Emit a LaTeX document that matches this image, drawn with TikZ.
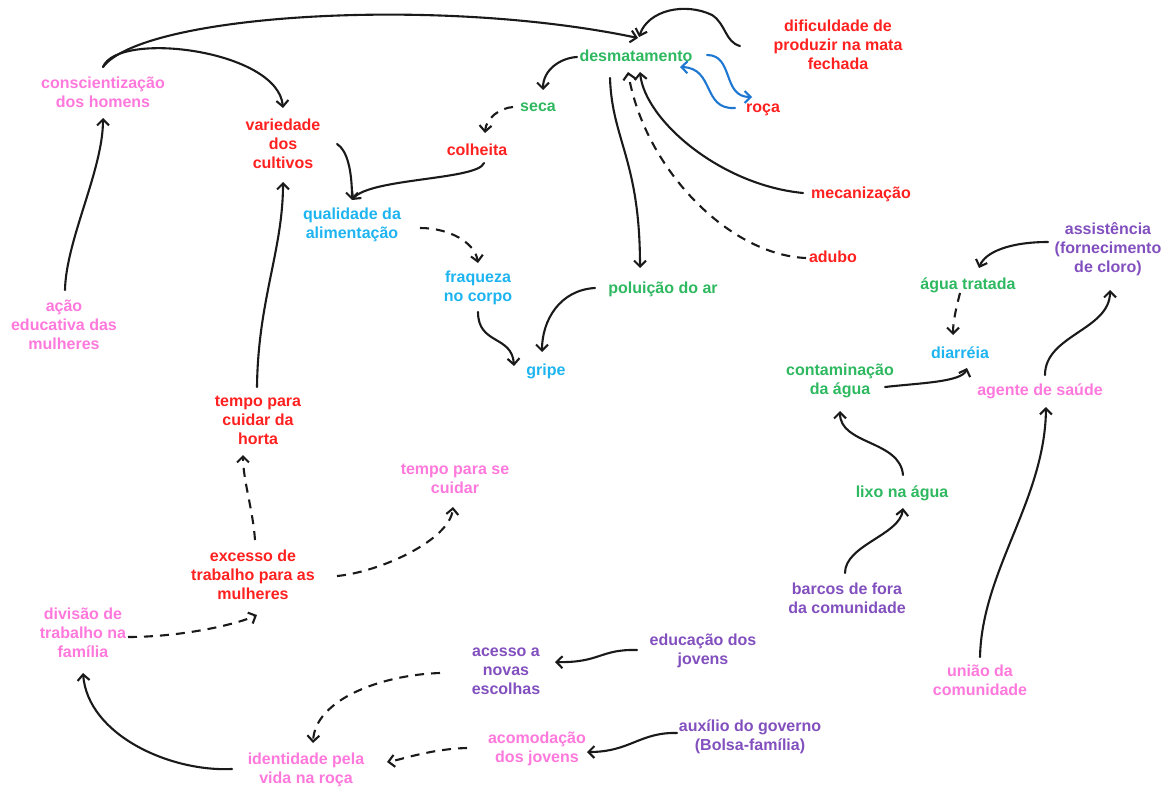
\documentclass[tikz,border=0pt]{standalone}
\usepackage{fontspec}
\setmainfont{Liberation Sans}
\usetikzlibrary{arrows.meta,calc}
\definecolor{cred}{HTML}{FF2020}
\definecolor{cpink}{HTML}{FF78DC}
\definecolor{cgreen}{HTML}{2EB860}
\definecolor{cblue}{HTML}{1EB4F0}
\definecolor{cpurple}{HTML}{8250BE}
\definecolor{cwave}{HTML}{1E78D2}
\definecolor{cink}{HTML}{1A1A1A}
\tikzset{
  lbl/.style={align=center,inner sep=2bp,font=\fontsize{16bp}{19bp}\selectfont\bfseries},
  red/.style={lbl,text=cred},
  pink/.style={lbl,text=cpink},
  green/.style={lbl,text=cgreen},
  blue/.style={lbl,text=cblue},
  purple/.style={lbl,text=cpurple},
  link/.style={draw=cink,line width=2.1bp,line cap=round,
    -{Straight Barb[length=6bp,width=12bp]}},
  dlink/.style={link,line cap=butt,dash pattern=on 9bp off 7bp},
  wave/.style={link,draw=cwave}
}
\begin{document}
\begin{tikzpicture}[x=1bp,y=-1bp]
\useasboundingbox (0,0) rectangle (1172,789);
% concepts
\node[pink]   (consc)  at (103,92)  {conscientização\\dos homens};
\node[red]    (vari)   at (283,144) {variedade\\dos\\cultivos};
\node[green]  (desm)   at (636,56)  {desmatamento};
\node[red]    (dific)  at (838,45)  {dificuldade de\\produzir na mata\\fechada};
\node[red]    (roca)   at (763,110) {roça};
\node[green]  (seca)   at (538,107) {seca};
\node[red]    (colh)   at (477,150) {colheita};
\node[red]    (mecan)  at (861,194) {mecanização};
\node[blue]   (qual)   at (352,225) {qualidade da\\alimentação};
\node[red]    (adubo)  at (833,257) {adubo};
\node[blue]   (fraq)   at (478,288) {fraqueza\\no corpo};
\node[green]  (polu)   at (663,289) {poluição do ar};
\node[blue]   (gripe)  at (546,371) {gripe};
\node[purple] (assist) at (1108,249) {assistência\\(fornecimento\\de cloro)};
\node[green]  (agua)   at (968,285) {água tratada};
\node[blue]   (diar)   at (960,353) {diarréia};
\node[green]  (contam) at (840,381) {contaminação\\da água};
\node[pink]   (agente) at (1040,391) {agente de saúde};
\node[pink]   (acao)   at (64,325)  {ação\\educativa das\\mulheres};
\node[red]    (tcuid)  at (258,420) {tempo para\\cuidar da\\horta};
\node[pink]   (tse)    at (455,479) {tempo para se\\cuidar};
\node[green]  (lixo)   at (902,493) {lixo na água};
\node[red]    (exces)  at (253,575) {excesso de\\trabalho para as\\mulheres};
\node[purple] (barcos) at (847,598) {barcos de fora\\da comunidade};
\node[pink]   (divis)  at (83,633)  {divisão de\\trabalho na\\família};
\node[purple] (educ)   at (703,651) {educação dos\\jovens};
\node[purple] (acesso) at (506,671) {acesso a\\novas\\escolhas};
\node[pink]   (uniao)  at (980,680) {união da\\comunidade};
\node[purple] (auxil)  at (750,737) {auxílio do governo\\(Bolsa-família)};
\node[pink]   (acomod) at (537,749) {acomodação\\dos jovens};
\node[pink]   (ident)  at (306,770) {identidade pela\\vida na roça};

% connectors
\draw[link] ($(consc)+(0,-25)$) .. controls (118,30) and (278,50) .. ($(vari)+(0,-36)$);
\draw[link] ($(consc)+(0,-25)$) .. controls (143,14) and (438,-4) .. ($(desm)+(2,-18)$);
\draw[link] ($(dific)+(-98,1)$) .. controls (725,42) and (726,24) .. (712,15)
            .. controls (685,2) and (648,10) .. ($(desm)+(3,-19)$);
\draw[link] ($(desm)+(-59,1)$) .. controls (560,58) and (543,70) .. ($(seca)+(5,-17)$);
\draw[dlink] ($(seca)+(-25,0)$) .. controls (500,108) and (486,118) .. ($(colh)+(8,-17)$);
\draw[link] ($(colh)+(7,13)$) .. controls (478,180) and (370,178) .. ($(qual)+(0,-25)$);
\draw[link] ($(vari)+(54,0)$) .. controls (347,150) and (352,170) .. ($(qual)+(0,-25)$);
\draw[dlink] ($(qual)+(68,3)$) .. controls (450,228) and (475,243) .. ($(fraq)+(0,-25)$);
\draw[link] ($(fraq)+(0,24)$) .. controls (478,345) and (512,335) .. ($(gripe)+(-32,-5)$);
\draw[link] ($(polu)+(-68,-1)$) .. controls (560,290) and (542,320) .. ($(gripe)+(-4,-19)$);
\draw[link] ($(desm)+(-26,22)$) .. controls (612,140) and (640,160) .. ($(polu)+(-23,-21)$);
\draw[dlink] ($(adubo)+(-27,1)$) .. controls (730,255) and (645,170) .. ($(desm)+(-8,16)$);
\draw[link] ($(mecan)+(-58,-1)$) .. controls (720,185) and (645,120) .. ($(desm)+(4,16)$);
\draw[wave] ($(desm)+(71,-1)$) .. controls (734,55) and (722,97) .. ($(roca)+(-11,-13)$);
\draw[wave] ($(roca)+(-28,-2)$) .. controls (702,110) and (715,68) .. ($(desm)+(44,11)$);
\draw[link] ($(acao)+(1,-35)$) .. controls (66,240) and (103,170) .. ($(consc)+(0,26)$);
\draw[link] ($(tcuid)+(-1,-33)$) .. controls (258,300) and (283,250) .. ($(vari)+(0,38)$);
\draw[dlink] ($(exces)+(2,-35)$) .. controls (253,510) and (243,480) .. ($(tcuid)+(-15,35)$);
\draw[dlink] ($(exces)+(84,1)$) .. controls (380,572) and (450,540) .. ($(tse)+(-2,28)$);
\draw[dlink] ($(divis)+(45,4)$) .. controls (180,637) and (235,625) .. ($(exces)+(4,40)$);
\draw[link] ($(ident)+(-74,-1)$) .. controls (170,772) and (88,735) .. ($(divis)+(0,40)$);
\draw[dlink] ($(acesso)+(-66,2)$) .. controls (380,675) and (315,700) .. ($(ident)+(7,-27)$);
\draw[dlink] ($(acomod)+(-70,-1)$) .. controls (430,749) and (400,760) .. ($(ident)+(81,-8)$);
\draw[link] ($(educ)+(-66,-1)$) .. controls (600,649) and (600,663) .. ($(acesso)+(49,-9)$);
\draw[link] ($(auxil)+(-73,-4)$) .. controls (640,732) and (630,752) .. ($(acomod)+(50,3)$);
\draw[dlink] ($(agua)+(-8,8)$) .. controls (957,305) and (953,320) .. ($(diar)+(-7,-18)$);
\draw[link] ($(assist)+(-60,-7)$) .. controls (1010,242) and (985,252) .. ($(agua)+(11,-17)$);
\draw[link] ($(contam)+(45,6)$) .. controls (920,383) and (962,382) .. ($(diar)+(7,15)$);
\draw[link] ($(lixo)+(1,-18)$) .. controls (900,440) and (840,445) .. ($(contam)+(0,30)$);
\draw[link] ($(barcos)+(-2,-25)$) .. controls (845,545) and (900,535) .. ($(lixo)+(1,15)$);
\draw[link] ($(agente)+(5,-16)$) .. controls (1045,335) and (1110,330) .. ($(assist)+(2,41)$);
\draw[link] ($(uniao)+(0,-23)$) .. controls (982,570) and (1045,500) .. ($(agente)+(6,16)$);
\end{tikzpicture}
\end{document}
